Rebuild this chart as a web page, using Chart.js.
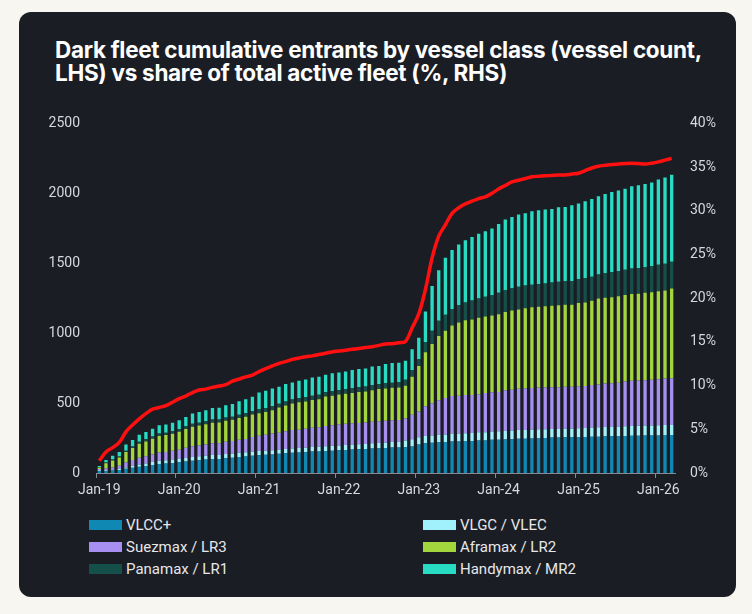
<!DOCTYPE html>
<html>
<head>
<meta charset="utf-8">
<script src="https://cdn.jsdelivr.net/npm/chart.js@4.4.1/dist/chart.umd.min.js"></script>
<style>
  html, body { margin: 0; padding: 0; background: #f7f6f1; }
  #card {
    position: absolute; left: 19px; top: 12px; width: 717px; height: 585px;
    background: #1b1d24; border-radius: 12px; overflow: hidden;
  }
  #title {
    position: absolute; left: 36px; top: 26px;
    font-family: Inter, sans-serif; font-weight: 700; font-size: 22.5px;
    line-height: 23px; color: #ffffff; letter-spacing: -0.3px; white-space: nowrap;
  }
  #wrap { position: absolute; left: 0; top: 87px; width: 717px; height: 408px; }
  #legend {
    position: absolute; left: 51px; top: 501px; width: 640px;
    font-family: Roboto, sans-serif; font-size: 15px; color: #e6e7ea;
  }
  .item { position: absolute; height: 22px; line-height: 22px; white-space: nowrap; }
  .box { display: inline-block; width: 33px; height: 10px; vertical-align: middle; margin-right: 4px; margin-top: -2px; }
</style>
</head>
<body>
<div id="card">
  <div id="title">Dark fleet cumulative entrants by vessel class (vessel count,<br>LHS) vs share of total active fleet (%, RHS)</div>
  <div id="wrap"><canvas id="myChart"></canvas></div>
  <div id="legend"></div>
</div>
<script>
// 月ラベル (Jan-19 .. Mar-26)
const labels = [
  'Jan-19','Feb-19','Mar-19','Apr-19','May-19','Jun-19','Jul-19','Aug-19','Sep-19','Oct-19','Nov-19','Dec-19',
  'Jan-20','Feb-20','Mar-20','Apr-20','May-20','Jun-20','Jul-20','Aug-20','Sep-20','Oct-20','Nov-20','Dec-20',
  'Jan-21','Feb-21','Mar-21','Apr-21','May-21','Jun-21','Jul-21','Aug-21','Sep-21','Oct-21','Nov-21','Dec-21',
  'Jan-22','Feb-22','Mar-22','Apr-22','May-22','Jun-22','Jul-22','Aug-22','Sep-22','Oct-22','Nov-22','Dec-22',
  'Jan-23','Feb-23','Mar-23','Apr-23','May-23','Jun-23','Jul-23','Aug-23','Sep-23','Oct-23','Nov-23','Dec-23',
  'Jan-24','Feb-24','Mar-24','Apr-24','May-24','Jun-24','Jul-24','Aug-24','Sep-24','Oct-24','Nov-24','Dec-24',
  'Jan-25','Feb-25','Mar-25','Apr-25','May-25','Jun-25','Jul-25','Aug-25','Sep-25','Oct-25','Nov-25','Dec-25',
  'Jan-26','Feb-26','Mar-26'
];

// 船種別の累積隻数
const vlcc = [15,15,18,22,30,38,45,50,58,65,68,72,
  76,82,88,92,96,100,101,106,109,114,118,124,
  127,130,132,137,141,144,146,148,153,154,158,160,
  163,165,168,170,172,175,177,179,182,182,184,190,
  203,212,216,221,221,226,226,228,228,233,233,238,
  238,240,242,245,245,247,251,251,253,253,255,255,
  258,258,260,260,262,262,265,265,267,267,269,269,
  269,272,272];
const vlgc = [5,5,6,8,10,13,16,18,20,22,23,24,
  25,26,27,27,28,28,28,29,29,30,30,30,
  30,30,31,31,31,32,32,32,33,33,33,34,
  34,35,35,36,36,37,38,38,39,40,48,52,
  52,52,53,54,55,56,56,57,58,58,59,59,
  60,61,62,62,62,62,61,61,61,61,62,62,
  62,64,66,67,67,67,67,69,69,70,70,71,
  72,72,72];
const suezmax = [8,12,15,22,35,42,48,52,55,60,60,63,
  66,72,76,78,80,84,84,88,90,93,96,104,
  110,114,119,119,126,131,131,136,138,141,145,147,
  150,152,152,152,154,154,155,157,157,157,158,175,
  185,214,230,246,261,268,271,272,272,273,280,280,
  281,290,292,296,297,299,300,300,300,300,300,300,
  300,301,303,306,311,312,314,321,324,324,325,326,
  330,331,333];
const aframax = [12,38,50,58,75,85,100,106,112,118,120,122,
  128,134,140,142,144,148,148,150,152,156,159,160,
  161,163,167,181,185,190,197,196,198,200,211,212,
  214,214,217,221,221,226,230,231,232,233,234,271,
  326,386,423,459,480,504,523,535,540,547,547,549,
  556,561,566,567,575,577,577,580,582,585,587,587,
  596,597,602,614,614,615,618,618,620,620,625,627,
  628,630,642];
const panamax = [3,5,7,8,10,12,14,15,16,17,17,18,
  19,20,21,21,22,22,22,23,23,24,24,26,
  28,28,28,28,28,29,29,29,31,31,31,31,
  32,34,35,35,35,36,36,36,36,37,42,48,
  48,71,95,108,115,119,126,128,135,136,142,145,
  154,154,159,161,162,162,162,164,167,168,169,169,
  171,173,173,173,175,179,181,181,183,183,184,185,
  190,191,192];
const handymax = [7,18,28,32,43,46,51,53,56,59,58,61,
  63,67,73,77,79,83,83,89,91,96,100,101,
  120,123,128,121,125,122,125,128,130,129,124,130,
  126,126,129,129,129,134,130,138,140,139,136,149,
  154,219,320,362,407,421,432,445,455,463,468,477,
  492,506,510,517,517,525,528,528,525,533,529,541,
  540,550,555,559,566,574,576,579,587,593,593,600,
  609,618,622];

// 船隊全体に占めるシェア (%, 右軸)
const share = [1.4,2.4,2.9,3.5,4.7,5.5,6.2,6.8,7.3,7.5,7.7,8.1,
  8.5,8.8,9.2,9.5,9.6,9.8,9.95,10.1,10.5,10.75,11.0,11.2,
  11.6,11.95,12.25,12.55,12.75,13.0,13.15,13.3,13.4,13.55,13.7,13.85,
  13.95,14.05,14.15,14.25,14.35,14.45,14.6,14.75,14.8,14.9,15.05,16.6,
  18.2,21.0,24.6,27.1,28.4,29.7,30.35,30.8,31.1,31.4,31.6,32.0,
  32.5,32.9,33.3,33.5,33.7,33.9,33.95,34.0,34.05,34.1,34.1,34.2,
  34.3,34.6,34.9,35.1,35.2,35.3,35.35,35.4,35.45,35.4,35.35,35.45,
  35.6,35.8,36.0];

const seriesNames = ['VLCC+', 'VLGC / VLEC', 'Suezmax / LR3', 'Aframax / LR2', 'Panamax / LR1', 'Handymax / MR2'];
const seriesColors = ['#1088b4', '#a0f1fb', '#a68ff0', '#a3d63c', '#144f4a', '#27dcc3'];
const seriesData = [vlcc, vlgc, suezmax, aframax, panamax, handymax];

const yTicks = [0, 500, 1000, 1500, 2000, 2500];
const pctTicks = [0, 5, 10, 15, 20, 25, 30, 35, 40];

const tickColor = '#d6d8dc';
const axisGray = '#878a91';

Chart.defaults.font.family = 'Roboto, sans-serif';
Chart.defaults.font.size = 14;
Chart.defaults.color = tickColor;

const barSets = seriesData.map((d, i) => ({
  type: 'bar',
  label: seriesNames[i],
  data: d,
  backgroundColor: seriesColors[i],
  borderWidth: 0,
  stack: 'fleet',
  yAxisID: 'y',
  order: 1,
  barPercentage: 0.5,
  categoryPercentage: 1.0
}));

const lineSet = {
  type: 'line',
  label: 'Share of total active fleet',
  data: share,
  borderColor: '#ff1010',
  borderWidth: 3.5,
  pointRadius: 0,
  tension: 0.35,
  yAxisID: 'y2',
  order: 0
};

const config = {
  type: 'bar',
  data: { labels: labels, datasets: [...barSets, lineSet] },
  options: {
    responsive: true,
    maintainAspectRatio: false,
    animation: false,
    layout: { padding: { top: 7, bottom: 4, left: 0, right: 0 } },
    plugins: { legend: { display: false }, tooltip: { enabled: false }, title: { display: false } },
    scales: {
      x: {
        stacked: true,
        offset: true,
        border: { display: true, color: axisGray, width: 1 },
        grid: {
          offset: true,
          drawOnChartArea: false,
          drawTicks: true,
          tickLength: 5,
          color: ctx => (ctx.index % 12 === 0 ? axisGray : 'rgba(0,0,0,0)')
        },
        ticks: {
          autoSkip: false,
          maxRotation: 0,
          padding: 4,
          color: tickColor,
          callback: (v, i) => (i % 12 === 0 ? labels[i] : '')
        },
        afterFit: s => { s.height = 30; }
      },
      y: {
        position: 'left',
        stacked: true,
        min: 0,
        max: 2500,
        grid: { display: false, drawTicks: false },
        border: { display: false },
        afterBuildTicks: s => { s.ticks = yTicks.map(v => ({ value: v })); },
        ticks: { padding: 16, color: tickColor, callback: v => String(v) },
        afterFit: s => { s.width = 77; }
      },
      y2: {
        position: 'right',
        min: 0,
        max: 40,
        grid: { display: false, drawTicks: false },
        border: { display: false },
        afterBuildTicks: s => { s.ticks = pctTicks.map(v => ({ value: v })); },
        ticks: { padding: 15, color: tickColor, callback: v => v + '%' },
        afterFit: s => { s.width = 61; }
      }
    }
  }
};

const myChart = new Chart(document.getElementById('myChart'), config);

// 凡例 (2列)
const legend = document.getElementById('legend');
const legendPos = [[19, 12], [353, 12], [19, 34], [353, 34], [19, 56], [353, 56]];
seriesNames.forEach((name, i) => {
  const el = document.createElement('div');
  el.className = 'item';
  el.style.left = legendPos[i][0] + 'px';
  el.style.top = (legendPos[i][1] - 11) + 'px';
  el.innerHTML = '<span class="box" style="background:' + seriesColors[i] + '"></span>' + name;
  legend.appendChild(el);
});
</script>
</body>
</html>
